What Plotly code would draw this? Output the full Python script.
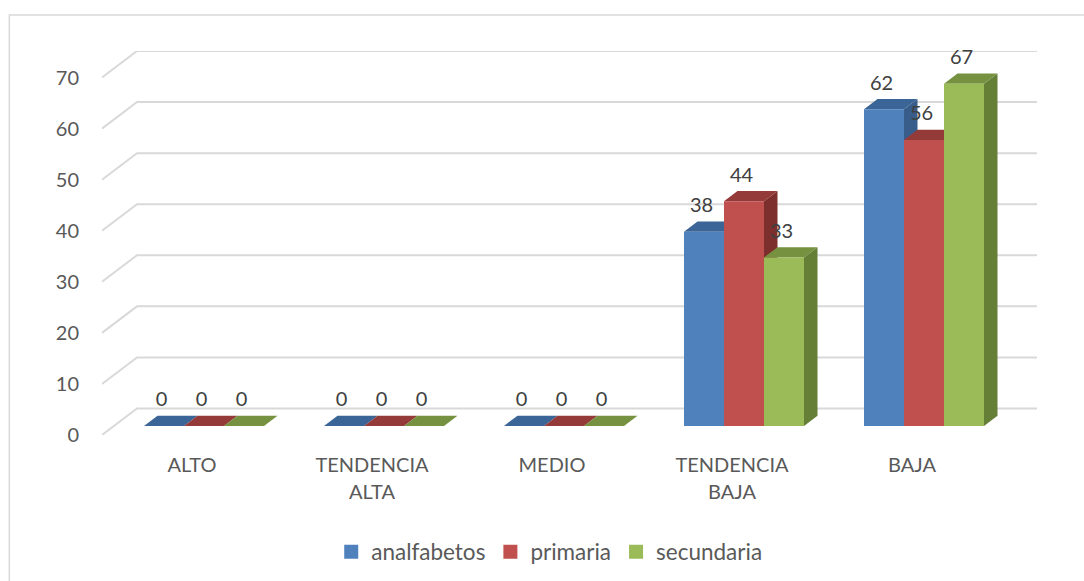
import plotly.graph_objects as go

# ---- data ----
categories = ["ALTO", "TENDENCIA ALTA", "MEDIO", "TENDENCIA BAJA", "BAJA"]
tick_lines = [["ALTO"], ["TENDENCIA", "ALTA"], ["MEDIO"], ["TENDENCIA", "BAJA"], ["BAJA"]]
series_names = ["analfabetos", "primaria", "secundaria"]
analfabetos = [0, 0, 0, 38, 62]
primaria = [0, 0, 0, 44, 56]
secundaria = [0, 0, 0, 33, 67]
y_ticks = [0, 10, 20, 30, 40, 50, 60, 70]

front_colors = ["#4F81BD", "#C0504D", "#9BBB59"]
top_colors = ["#3B6596", "#943A38", "#769240"]
side_colors = ["#385D8A", "#7C2F2D", "#667F37"]
GRID = "#D9D9D9"
TEXT = "#595959"
LABEL = "#404040"
FONT = "Lato, Carlito, Calibri, sans-serif"

# ---- geometry of the oblique projection (in px, converted to axis units) ----
L, R, T, B = 101.7, 1037.0, 51.0, 435.0
PX_PER_CAT = 180.0
PX_PER_VAL = 5.1
DEPTH_X = 35.0 / PX_PER_CAT      # full floor depth, x axis units
DEPTH_Y = 26.5 / PX_PER_VAL      # full floor depth, y axis units
BAR_W = 40.0 / PX_PER_CAT
D1, D2 = 12.0 / 35.0, 25.5 / 35.0  # front/back of the bars as fractions of the depth


def proj(x, v, d):
    return x + d * DEPTH_X, v + d * DEPTH_Y


def poly(points):
    xs, ys = zip(*points)
    return list(xs) + [xs[0], None], list(ys) + [ys[0], None]


def face_trace(xs, ys, color):
    return go.Scatter(x=xs, y=ys, mode="lines", fill="toself", fillcolor=color,
                      line=dict(width=0, color=color), hoverinfo="skip",
                      showlegend=False, cliponaxis=False)


fig = go.Figure()

# back wall grid + side-wall diagonal
gx, gy = [], []
for t in y_ticks:
    a = proj(-0.5, t, 0)
    b = proj(-0.5, t, 1)
    c = proj(4.5, t, 1)
    gx += [a[0], b[0], c[0], None]
    gy += [a[1], b[1], c[1], None]
fig.add_trace(go.Scatter(x=gx, y=gy, mode="lines", line=dict(color=GRID, width=2),
                         hoverinfo="skip", showlegend=False, cliponaxis=False))

all_values = [analfabetos, primaria, secundaria]
for i, values in enumerate(all_values):
    sx, sy, tx, ty, fx, fy = [], [], [], [], [], []
    for k, v in enumerate(values):
        x0 = k + (i - 1.5) * BAR_W
        x1 = x0 + BAR_W
        a, b = poly([proj(x1, 0, D1), proj(x1, 0, D2), proj(x1, v, D2), proj(x1, v, D1)])
        sx += a; sy += b
        a, b = poly([proj(x0, v, D1), proj(x1, v, D1), proj(x1, v, D2), proj(x0, v, D2)])
        tx += a; ty += b
        a, b = poly([proj(x0, 0, D1), proj(x1, 0, D1), proj(x1, v, D1), proj(x0, v, D1)])
        fx += a; fy += b
    fig.add_trace(face_trace(sx, sy, side_colors[i]))
    fig.add_trace(face_trace(tx, ty, top_colors[i]))
    fig.add_trace(face_trace(fx, fy, front_colors[i]))

# data labels above everything
for i, values in enumerate(all_values):
    lx = [proj(k + (i - 1) * BAR_W - 2.5 / PX_PER_CAT, v, D1)[0] for k, v in enumerate(values)]
    ly = [proj(k, v + 24.5 / PX_PER_VAL, D1)[1] for k, v in enumerate(values)]
    fig.add_trace(go.Scatter(x=lx, y=ly, mode="text", text=[str(v) for v in values],
                             textposition="middle center",
                             textfont=dict(family=FONT, size=20, color=LABEL),
                             hoverinfo="skip", showlegend=False, cliponaxis=False))

# legend entries
for i, name in enumerate(series_names):
    fig.add_trace(go.Scatter(x=[None], y=[None], mode="markers", name=name,
                             marker=dict(symbol="square", size=14, color=front_colors[i])))


def px_x(p):
    return (p - L) / (R - L)


def px_y(p):
    return (B - p) / (B - T)


fig.add_shape(type="path", xref="paper", yref="paper",
              path=f"M {px_x(9)} {px_y(581)} L {px_x(9)} {px_y(15)} L {px_x(1084)} {px_y(15)}",
              line=dict(color=GRID, width=1.5))

# line spacing of the axis follows the tick font; the glyphs themselves are set to 20 px
tick_text = ["<br>".join(f'<span style="font-size:20px">{w}</span>' for w in lines)
             for lines in tick_lines]

fig.update_layout(
    width=1084, height=581,
    margin=dict(l=L, r=1084 - R, t=T, b=581 - B, pad=0, autoexpand=False),
    paper_bgcolor="white", plot_bgcolor="white",
    font=dict(family=FONT, size=20, color=TEXT),
    xaxis=dict(range=[-0.5, 4.5 + DEPTH_X], tickmode="array", tickvals=list(range(5)),
               ticktext=tick_text, showgrid=False, zeroline=False, showline=False,
               ticks="", ticklabelstandoff=14, tickfont=dict(family=FONT, size=21.5, color=TEXT)),
    yaxis=dict(range=[0, 70 + DEPTH_Y], tickmode="array", tickvals=y_ticks,
               showgrid=False, zeroline=False, showline=False, ticks="",
               ticklabelstandoff=22, tickfont=dict(family=FONT, size=20, color=TEXT)),
    showlegend=True,
    legend=dict(orientation="h", x=px_x(331), y=px_y(552), xanchor="left", yanchor="middle",
                font=dict(family=FONT, size=22.5, color=TEXT), bgcolor="rgba(0,0,0,0)"),
)

fig.write_html("out.html", config={"displayModeBar": False},
               post_script="document.body.style.margin='0';")
